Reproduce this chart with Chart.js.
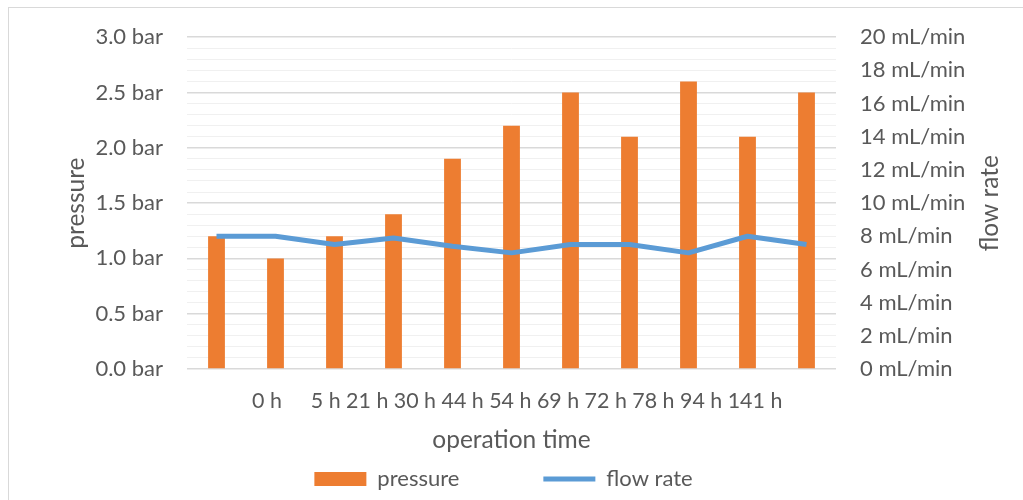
<!DOCTYPE html>
<html>
<head>
<meta charset="utf-8">
<script src="https://cdn.jsdelivr.net/npm/chart.js@4"></script>
<style>
  html, body { margin: 0; padding: 0; background: #fff; }
  canvas { display: block; }
</style>
</head>
<body>
<canvas id="chart" width="1023" height="500"></canvas>
<script>
// Operation time points and measurements
const categories = ['0 h', '5 h', '21 h', '30 h', '44 h', '54 h', '69 h', '72 h', '78 h', '94 h', '141 h'];
const pressureBar = [1.2, 1.0, 1.2, 1.4, 1.9, 2.2, 2.5, 2.1, 2.6, 2.1, 2.5];
const flowRateMlMin = [8, 8, 7.5, 7.9, 7.4, 7, 7.5, 7.5, 7, 8, 7.5];

// Axis ranges and tick spacing
const pressureRange = [0, 3];
const pressureMinorStep = 0.1;
const pressureMajorStep = 0.5;
const flowRange = [0, 20];
const flowStep = 2;

// Text
const seriesNames = ['pressure', 'flow rate'];
const xTitle = 'operation time';
const yTitle = 'pressure';
const y1Title = 'flow rate';

const FONT = 'Lato, "Open Sans", "Noto Sans", sans-serif';
const TEXT = '#595959';
const ORANGE = '#ED7D31';
const BLUE = '#5B9BD5';

const PLOT_BOTTOM = 369;
const PAD_RIGHT = 16;

const isMajor = v => Math.abs(v / pressureMajorStep - Math.round(v / pressureMajorStep)) < 1e-6;

// Frame, category labels row, x title and right-hand axis title
const extras = {
  id: 'extras',
  beforeDraw(chart) {
    const ctx = chart.ctx;
    ctx.save();
    ctx.fillStyle = '#fff';
    ctx.fillRect(0, 0, chart.width, chart.height);
    ctx.strokeStyle = '#d9d9d9';
    ctx.lineWidth = 1;
    ctx.strokeRect(8.5, 7.5, chart.width + 40, chart.height + 40);
    ctx.restore();
  },
  afterDraw(chart) {
    const { ctx, chartArea: a } = chart;
    const labels = chart.data.labels;
    ctx.save();
    ctx.fillStyle = TEXT;
    ctx.textBaseline = 'middle';

    ctx.font = `21.4px ${FONT}`;
    ctx.textAlign = 'left';
    const rowY = a.bottom + 32;
    let x = a.left + 65;
    ctx.fillText(labels[0], x, rowY);
    x += ctx.measureText(labels[0]).width + 29;
    ctx.fillText(labels.slice(1).join(' '), x, rowY);

    ctx.font = `24.5px ${FONT}`;
    ctx.textAlign = 'center';
    ctx.fillText(xTitle, (a.left + a.right) / 2, a.bottom + 71);

    const y1 = chart.scales.y1;
    ctx.translate(y1.right - 17, (a.top + a.bottom) / 2);
    ctx.rotate(-Math.PI / 2);
    ctx.fillText(y1Title, 0, 0);
    ctx.restore();
  }
};

new Chart(document.getElementById('chart'), {
  type: 'bar',
  data: {
    labels: categories,
    datasets: [
      {
        label: seriesNames[0],
        data: pressureBar,
        yAxisID: 'y',
        backgroundColor: ORANGE,
        borderWidth: 0,
        categoryPercentage: 1,
        barPercentage: 0.285,
        order: 1
      },
      {
        type: 'line',
        label: seriesNames[1],
        data: flowRateMlMin,
        yAxisID: 'y1',
        borderColor: BLUE,
        backgroundColor: BLUE,
        borderWidth: 5,
        borderJoinStyle: 'round',
        borderCapStyle: 'butt',
        pointRadius: 0,
        tension: 0,
        fill: false,
        order: 0
      }
    ]
  },
  options: {
    responsive: false,
    animation: false,
    layout: { padding: { top: 35, left: 0, right: PAD_RIGHT, bottom: 0 } },
    plugins: {
      tooltip: { enabled: false },
      legend: {
        position: 'bottom',
        labels: {
          font: { family: FONT, size: 22 },
          color: TEXT,
          usePointStyle: true,
          pointStyleWidth: 52,
          boxHeight: 14,
          padding: 84,
          sort: (a, b) => a.datasetIndex - b.datasetIndex,
          generateLabels(chart) {
            const items = Chart.defaults.plugins.legend.labels.generateLabels(chart);
            items.forEach(it => {
              it.pointStyle = it.datasetIndex === 0 ? 'rect' : 'line';
            });
            return items;
          }
        }
      }
    },
    scales: {
      x: {
        grid: { display: false },
        border: { display: false },
        ticks: { display: false },
        afterFit(s) {
          const lh = s.chart.legend ? s.chart.legend.height : 0;
          s.height = s.chart.height - PLOT_BOTTOM - lh;
        }
      },
      y: {
        position: 'left',
        min: pressureRange[0],
        max: pressureRange[1],
        border: { display: false },
        grid: {
          drawTicks: false,
          color: c => isMajor(c.tick.value) ? '#d9d9d9' : '#f0f0f0',
          lineWidth: c => isMajor(c.tick.value) ? 1.5 : 1
        },
        ticks: {
          stepSize: pressureMinorStep,
          autoSkip: false,
          padding: 24,
          color: TEXT,
          font: { family: FONT, size: 22 },
          callback: v => isMajor(v) ? v.toFixed(1) + ' bar' : ''
        },
        title: {
          display: true,
          text: yTitle,
          color: TEXT,
          font: { family: FONT, size: 24.5, lineHeight: 1.2 },
          padding: { top: 61, bottom: 0 }
        },
        afterFit(s) { s.width = 187; }
      },
      y1: {
        position: 'right',
        min: flowRange[0],
        max: flowRange[1],
        border: { display: false },
        grid: { drawOnChartArea: false, drawTicks: false },
        ticks: {
          stepSize: flowStep,
          autoSkip: false,
          padding: 24,
          color: TEXT,
          font: { family: FONT, size: 22 },
          callback: v => v + ' mL/min'
        },
        afterFit(s) { s.width = 187 - PAD_RIGHT; }
      }
    }
  },
  plugins: [extras]
});
</script>
</body>
</html>
